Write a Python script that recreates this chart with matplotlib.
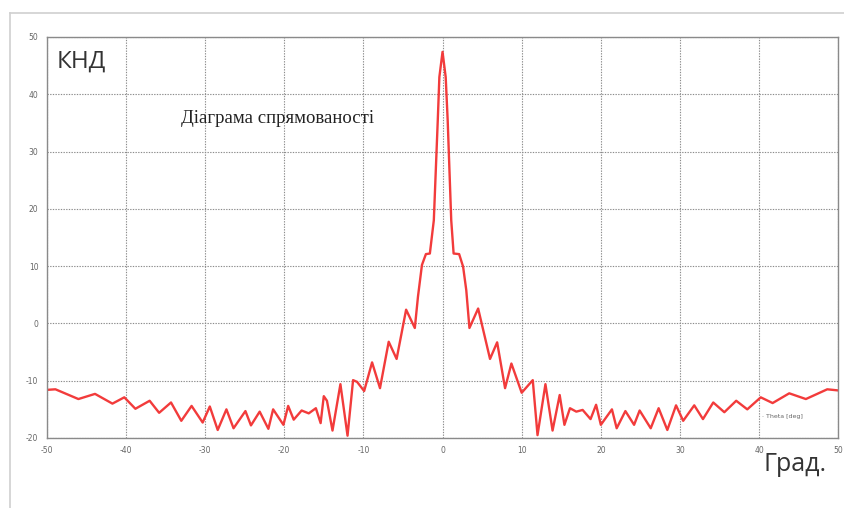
import matplotlib.pyplot as plt
from matplotlib.lines import Line2D

plt.rcParams['axes.unicode_minus'] = False

# directivity pattern, degrees vs dB
theta = [-50, -48.9, -46.0, -43.9, -41.7, -40.2, -38.8, -37.0, -35.8, -34.3,
         -33.0, -31.7, -30.3, -29.4, -28.4, -27.3, -26.4, -24.9, -24.2, -23.1,
         -22.0, -21.4, -20.1, -19.5, -18.8, -17.8, -16.9, -16.0, -15.4, -15.0,
         -14.6, -13.9, -12.9, -12.0, -11.3, -10.8, -9.9, -8.9, -7.9, -6.8,
         -5.8, -4.6, -3.5, -3.1, -2.6, -2.1, -1.6, -1.1, -0.6, -0.4,
         0.0, 0.4, 0.65, 1.1, 1.4, 2.1, 2.6, 3.0, 3.4, 4.5,
         6.0, 6.9, 7.9, 8.7, 10.0, 11.4, 12.0, 13.0, 13.9, 14.8,
         15.4, 16.1, 16.9, 17.7, 18.7, 19.4, 20.0, 21.4, 22.0, 23.1,
         24.2, 24.9, 26.3, 27.3, 28.4, 29.5, 30.4, 31.8, 32.9, 34.2,
         35.6, 37.1, 38.5, 40.2, 41.7, 43.8, 45.9, 48.6, 50]
gain = [-11.6, -11.5, -13.2, -12.3, -14.0, -12.9, -14.9, -13.5, -15.6, -13.8,
        -17.0, -14.4, -17.3, -14.5, -18.6, -15.0, -18.3, -15.3, -17.8, -15.4,
        -18.4, -15.0, -17.7, -14.4, -16.8, -15.2, -15.7, -14.8, -17.4, -12.7,
        -13.5, -18.7, -10.6, -19.6, -9.9, -10.2, -11.8, -6.8, -11.3, -3.2,
        -6.2, 2.4, -0.8, 4.7, 10.2, 12.1, 12.2, 18.0, 35.5, 43.0,
        47.4, 43.0, 35.5, 18.0, 12.2, 12.1, 9.9, 5.8, -0.8, 2.6,
        -6.2, -3.3, -11.3, -7.0, -12.1, -9.9, -19.5, -10.6, -18.7, -12.5,
        -17.7, -14.8, -15.4, -15.1, -16.7, -14.2, -17.7, -15.0, -18.3, -15.3,
        -17.7, -15.2, -18.3, -14.8, -18.6, -14.3, -17.0, -14.3, -16.7, -13.8,
        -15.5, -13.5, -15.0, -12.9, -13.9, -12.2, -13.2, -11.5, -11.7]

x_ticks = list(range(-50, 51, 10))
y_ticks = list(range(-20, 51, 10))

fig = plt.figure(figsize=(8.45, 5.08), dpi=100)
ax = fig.add_axes([0.0553, 0.1378, 0.9368, 0.7894])

ax.plot(theta, gain, color='#f23b3b', lw=1.7, solid_joinstyle='round')

ax.set_xlim(-50, 50)
ax.set_ylim(-20, 50)
ax.set_xticks(x_ticks)
ax.set_yticks(y_ticks)
ax.tick_params(length=0, labelsize=5.5, labelcolor='#666666', pad=6)
ax.grid(True, color='#8c8c8c', linestyle=(0, (1.2, 1.2)), linewidth=0.8)
for s in ax.spines.values():
    s.set_color('#8a8a8a')
    s.set_linewidth(1.0)

ax.text(-48.7, 47.8, 'КНД', fontsize=17.5, color='#333333',
        family='Open Sans', va='top', ha='left')
ax.text(-33.0, 35.0, 'Діаграма спрямованості', fontsize=13.5,
        color='#222222', family='Liberation Serif', va='baseline')
ax.text(40.3, -16.3, '· Theta [deg]', fontsize=4.5, color='#666666',
        va='center', ha='left')
fig.text(764 / 845, 1 - 471 / 508, 'Град.', fontsize=18, color='#333333',
         family='Open Sans', ha='left', va='baseline')

# outer frame lines
fig.add_artist(Line2D([10 / 845, 1], [1 - 13 / 508, 1 - 13 / 508],
                      color='#d0d0d0', lw=1.2, transform=fig.transFigure))
fig.add_artist(Line2D([10 / 845, 10 / 845], [0, 1 - 13 / 508],
                      color='#d0d0d0', lw=1.2, transform=fig.transFigure))

fig.savefig('out.png', dpi=100)
